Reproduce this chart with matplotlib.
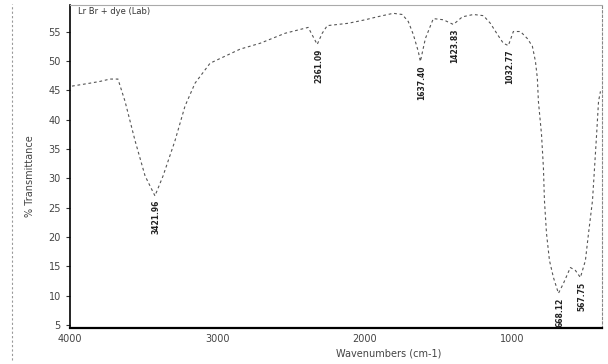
import matplotlib
matplotlib.use("Agg")
import matplotlib.pyplot as plt

# IR spectrum (wavenumber cm-1, % transmittance)
wavenumber = [3986, 3864, 3796, 3728, 3674, 3626, 3558, 3490, 3423, 3368,
              3287, 3219, 3151, 3049, 2947, 2845, 2709, 2540, 2383, 2322,
              2288, 2254, 2112, 1996, 1915, 1806, 1745, 1704, 1670, 1636,
              1622, 1588, 1534, 1466, 1398, 1337, 1262, 1194, 1147, 1099,
              1059, 1025, 991, 943, 896, 862, 841, 828, 821, 800,
              787, 780, 766, 746, 719, 685, 651, 604, 570, 536,
              502, 481, 454, 440, 426, 413, 400]
transmittance = [45.7, 46.2, 46.5, 46.9, 46.9, 43.1, 36.4, 30.4, 27.0, 30.4,
                 36.4, 42.3, 46.2, 49.6, 50.8, 52.0, 53.0, 54.7, 55.7, 52.8,
                 54.7, 56.0, 56.4, 57.0, 57.5, 58.1, 57.9, 56.7, 54.5, 51.6,
                 49.9, 53.8, 57.2, 57.0, 56.2, 57.5, 57.9, 57.7, 56.4, 54.5,
                 53.0, 52.6, 55.0, 55.0, 53.8, 52.5, 49.9, 47.0, 43.1, 37.5,
                 31.8, 26.2, 20.6, 16.0, 13.1, 10.4, 12.1, 14.8, 14.3, 13.1,
                 16.0, 20.6, 26.2, 31.8, 37.5, 43.1, 44.8]

# peak labels printed by the instrument, and where the dips sit on the curve
peak_text = ["3421.96", "2361.09", "1637.40", "1423.83", "1032.77", "668.12", "567.75"]
peak_at = [3423, 2322, 1622, 1398, 1025, 685, 536]

x_ticks = [4000, 3000, 2000, 1000]
y_ticks = [5, 10, 15, 20, 25, 30, 35, 40, 45, 50, 55]

fig = plt.figure(figsize=(6.08, 3.64), dpi=100)
ax = fig.add_axes([0.115, 0.099, 0.875, 0.887])

ax.plot(wavenumber, transmittance, color="#555555", lw=0.8,
        linestyle=(0, (2.5, 2.5)))

for txt, w in zip(peak_text, peak_at):
    t = transmittance[wavenumber.index(w)]
    ax.annotate(txt, (w, t), xytext=(1, -3), textcoords="offset points",
                rotation=90, ha="center", va="top", fontsize=5.5,
                fontweight="bold", color="#222222")

ax.set_xlim(4000, 390)
ax.set_ylim(4.5, 59.5)
ax.set_xticks(x_ticks)
ax.set_yticks(y_ticks)
ax.tick_params(axis="both", labelsize=7, labelcolor="#444444", length=3,
               width=0.8, color="#333333")
ax.tick_params(axis="x", length=0, pad=4)

ax.spines["left"].set_linewidth(1.2)
ax.spines["bottom"].set_linewidth(1.6)
ax.spines["top"].set_color("#aaaaaa")
ax.spines["top"].set_linewidth(0.8)
ax.spines["right"].set_color("#888888")
ax.spines["right"].set_linestyle((0, (2, 2)))
ax.spines["right"].set_linewidth(0.8)

ax.set_ylabel("% Transmittance", fontsize=7, color="#444444")
ax.yaxis.set_label_coords(-0.065, 0.47)
ax.set_xlabel("Wavenumbers (cm-1)", fontsize=7, color="#444444")
ax.xaxis.set_label_coords(0.6, -0.065)

ax.text(0.015, 0.995, "Lr Br + dye (Lab)", transform=ax.transAxes,
        fontsize=6, va="top", ha="left", color="#333333")

# scanned page border on the left
fig.add_artist(plt.Line2D([0.02, 0.02], [0.01, 0.99], color="#999999",
                          lw=0.8, linestyle=(0, (2, 2))))

plt.savefig("out.png", dpi=100)
